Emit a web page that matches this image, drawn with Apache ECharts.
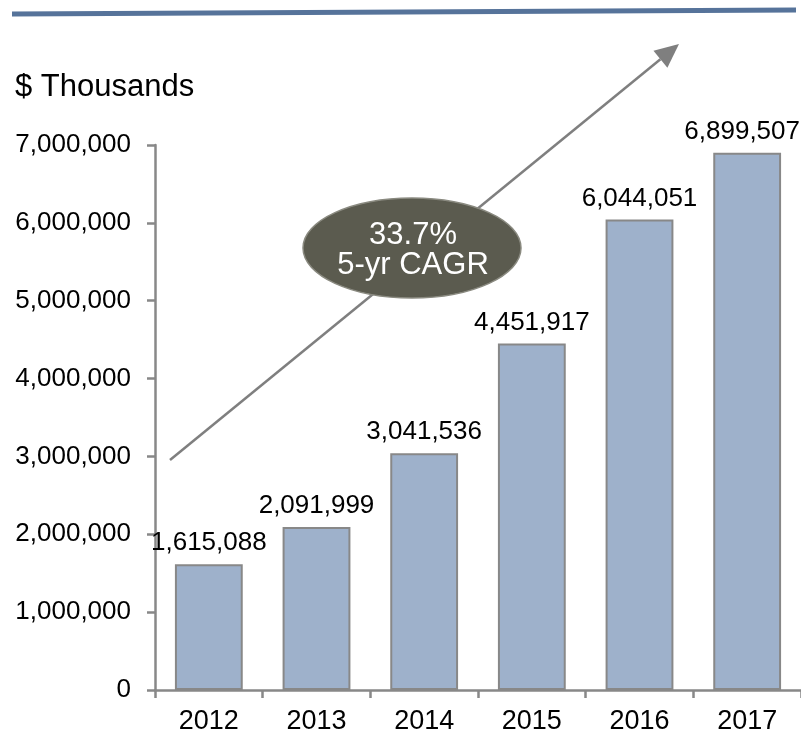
<!DOCTYPE html>
<html><head><meta charset="utf-8">
<script src="https://cdn.jsdelivr.net/npm/echarts@6/dist/echarts.min.js"></script>
<style>html,body{margin:0;padding:0;background:#fff}#c{width:801px;height:743px}</style>
</head><body><div id="c"></div>
<script>
var categories = ['2012','2013','2014','2015','2016','2017'];
var values = [1615088, 2091999, 3041536, 4451917, 6044051, 6899507];
var unitLabel = '$ Thousands';
var cagrLines = ['33.7%', '5-yr CAGR'];

var chart = echarts.init(document.getElementById('c'));
var FONT = '"Liberation Sans", Arial, sans-serif';
// arrow geometry
var ax0 = 170, ay0 = 460, ax1 = 679, ay1 = 44;
var dx = ax1 - ax0, dy = ay1 - ay0, L = Math.sqrt(dx*dx+dy*dy);
var ux = dx/L, uy = dy/L, px = -uy, py = ux;
var hl = 24, hw = 11;
var bx = ax1 - ux*hl, by = ay1 - uy*hl;
chart.setOption({
  animation: false,
  textStyle: {fontFamily: FONT},
  grid: {left: 155, right: 0, top: 145, bottom: 53, containLabel: false},
  xAxis: {
    type: 'category', data: categories,
    axisLine: {lineStyle: {color: '#888', width: 2.5}},
    axisTick: {show: true, length: 8, lineStyle: {color: '#888', width: 2.5}},
    axisLabel: {color: '#000', fontSize: 27, margin: 18, fontFamily: FONT}
  },
  yAxis: {
    type: 'value', min: 0, max: 7000000, interval: 1000000,
    splitLine: {show: false},
    axisLine: {show: true, lineStyle: {color: '#888', width: 2.5}},
    axisTick: {show: true, length: 8, lineStyle: {color: '#888', width: 2.5}},
    axisLabel: {color: '#000', fontSize: 26, margin: 24, fontFamily: FONT,
      formatter: function(v){ return v.toLocaleString('en-US'); }}
  },
  series: [{
    type: 'bar', data: values, barWidth: '63%',
    itemStyle: {color: '#9eb1cb', borderColor: '#888', borderWidth: 2},
    label: {show: true, position: 'top', distance: 8, color: '#000', fontSize: 26, fontFamily: FONT,
      formatter: function(p){ return p.value.toLocaleString('en-US'); }},
    labelLayout: function(p){
      var over = p.labelRect.x + p.labelRect.width - 800;
      return over > 0 ? {dx: -over} : {};
    }
  }],
  graphic: [
    {type: 'line', shape: {x1: 12, y1: 14, x2: 796, y2: 10}, style: {stroke: '#56739a', lineWidth: 5}},
    {type: 'text', left: 15, top: 72, style: {text: unitLabel, fontSize: 31, fill: '#000', fontFamily: FONT}},
    {type: 'line', shape: {x1: ax0, y1: ay0, x2: bx, y2: by}, style: {stroke: '#7f7f7f', lineWidth: 2.5}},
    {type: 'polygon', shape: {points: [[ax1, ay1], [bx + px*hw, by + py*hw], [bx - px*hw, by - py*hw]]}, style: {fill: '#7f7f7f'}},
    {type: 'ellipse', shape: {cx: 412, cy: 248, rx: 109, ry: 50}, style: {fill: '#5b5b4f', stroke: '#8a8a80', lineWidth: 1.5}},
    {type: 'text', x: 413, y: 250, style: {text: cagrLines.join('\n'), fontSize: 31, lineHeight: 30, fill: '#fff', align: 'center', verticalAlign: 'middle', fontFamily: FONT}}
  ]
});
</script></body></html>
